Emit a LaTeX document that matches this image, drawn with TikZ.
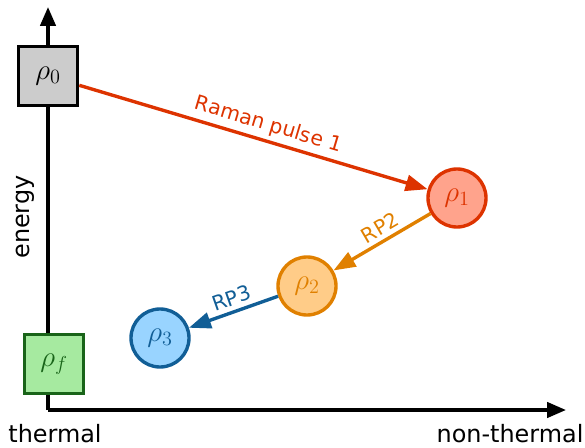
\documentclass[tikz,border=0pt]{standalone}
\usepackage{fontspec}
\setsansfont{DejaVu Sans}
\usetikzlibrary{arrows.meta}

\definecolor{pulseone}{RGB}{221,51,0}
\definecolor{rhoonefill}{RGB}{255,163,140}
\definecolor{pulsetwo}{RGB}{224,128,0}
\definecolor{rhotwofill}{RGB}{255,204,136}
\definecolor{pulsethree}{RGB}{17,94,150}
\definecolor{rhothreefill}{RGB}{153,212,255}
\definecolor{finalgreen}{RGB}{25,100,25}
\definecolor{finalfill}{RGB}{166,234,160}

\begin{document}
\begin{tikzpicture}[x=0.025cm,y=-0.025cm,
      statebox/.style={rectangle,draw,line width=2.4pt,minimum size=1.48cm,inner sep=0pt,font=\fontsize{20}{24}\selectfont},
      statecirc/.style={circle,draw,line width=2.4pt,minimum size=1.45cm,inner sep=0pt,font=\fontsize{20}{24}\selectfont},
      axis/.style={line width=2.4pt,-{Triangle[length=0.47cm,width=0.38cm]}},
      pulse/.style={line width=2.4pt,-{Triangle[length=0.55cm,width=0.4cm]}},
      lbl/.style={font=\fontsize{14.5}{17}\sffamily,sloped,above,inner sep=3pt},
      axlbl/.style={font=\fontsize{17}{20}\sffamily}
      ]
      \useasboundingbox (0,0) rectangle (585,447);
      % axes
      \coordinate (o) at (48,410);
      \coordinate (ytop) at (48,7);
      \coordinate (xend) at (566,410);
      \draw[axis] (o) -- (ytop);
      \draw[axis] (o) -- (xend);
      \node (energy) [axlbl,rotate=90] at (25,217) {energy};
      \node (thermal) [axlbl] at (55,434) {thermal};
      \node (nonthermal) [axlbl] at (510,434) {non-thermal};
      % states
      \node (r0) [statebox,fill=black!20] at (48,76) {$\rho_0$};
      \node (rf) [statebox,draw=finalgreen,fill=finalfill,text=finalgreen] at (54,364) {$\rho_f$};
      \node (r1) [statecirc,draw=pulseone,fill=rhoonefill,text=pulseone] at (457,198) {$\rho_1$};
      \node (r2) [statecirc,draw=pulsetwo,fill=rhotwofill,text=pulsetwo] at (307,286) {$\rho_2$};
      \node (r3) [statecirc,draw=pulsethree,fill=rhothreefill,text=pulsethree] at (160,338) {$\rho_3$};
      % pulses
      \draw[pulse,pulseone] (r0) -- node[lbl,pos=0.53] {Raman pulse 1} (r1);
      \draw[pulse,pulsetwo] (r1) -- node[lbl,pos=0.45] {RP2} (r2);
      \draw[pulse,pulsethree] (r2) -- node[lbl,pos=0.47] {RP3} (r3);
\end{tikzpicture}
\end{document}
